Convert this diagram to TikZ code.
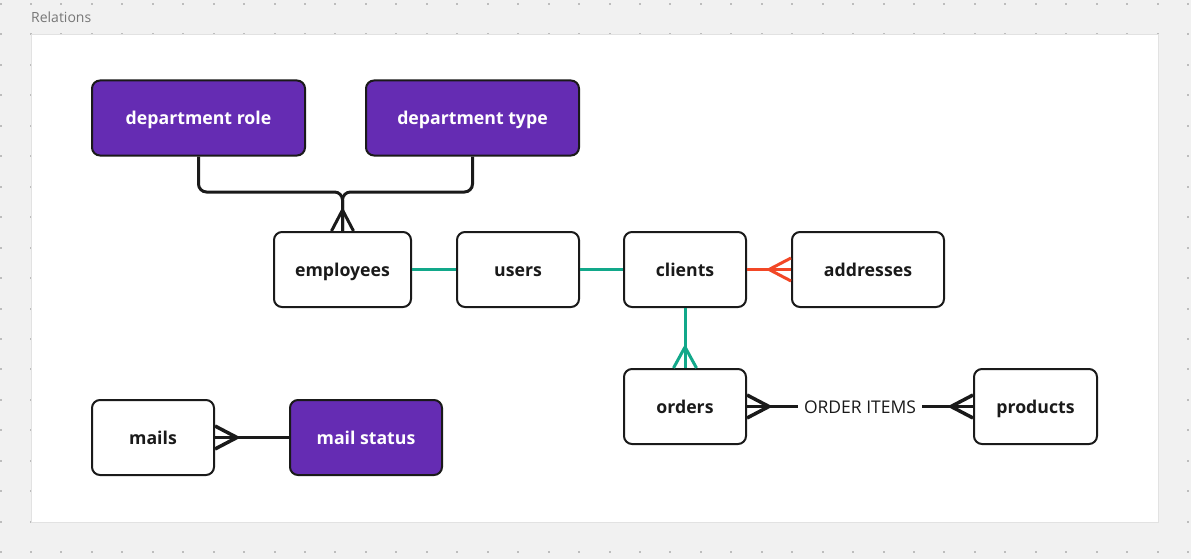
\documentclass[tikz,border=0pt]{standalone}
\usepackage{fontspec}
\setmainfont{Open Sans}
\usetikzlibrary{calc}
\definecolor{bgc}{HTML}{F1F1F1}
\definecolor{dotc}{HTML}{BDBDBD}
\definecolor{framec}{HTML}{E2E2E2}
\definecolor{ink}{HTML}{1A1A1A}
\definecolor{violetc}{HTML}{652CB3}
\definecolor{tealc}{HTML}{12A88A}
\definecolor{redc}{HTML}{F24726}
\definecolor{titlec}{HTML}{777777}
\begin{document}
\begin{tikzpicture}[x=1pt,y=-1pt,
  entity/.style={draw=ink, line width=2pt, rounded corners=8pt, fill=white, text=ink,
    font=\fontsize{17.7}{21}\selectfont\bfseries, minimum height=75pt, inner sep=0pt,
    text height=17pt, text depth=4pt},
  lookup/.style={entity, fill=violetc, text=white},
  rel/.style={line width=3pt, draw=ink},
  relthick/.style={line width=3.5pt, draw=ink},
  tealrel/.style={line width=3pt, draw=tealc},
  redrel/.style={line width=3pt, draw=redc}]
\useasboundingbox (0,0) rectangle (1191,559);
\fill[bgc] (0,0) rectangle (1191,559);
\foreach \i in {0,...,39}{
  \foreach \j in {0,...,18}{
    \fill[dotc] ({0.5+30.45*\i-1},{4+30.45*\j-1}) rectangle ++(2,2);
  }
}
\draw[framec, fill=white, line width=1pt] (31,35) rectangle (1158,522);
\node[anchor=base west, text=titlec, font=\fontsize{14}{16}\selectfont, inner sep=0pt] (title) at (31,23) {Relations};

% nodes
\node[lookup, minimum width=213pt] (deptrole) at (198.5,118) {department role};
\node[lookup, minimum width=213pt] (depttype) at (472.5,118) {department type};
\node[entity, minimum width=137pt] (employees) at (342.5,269.5) {employees};
\node[entity, minimum width=122pt] (users) at (518,269.5) {users};
\node[entity, minimum width=122pt] (clients) at (685,269.5) {clients};
\node[entity, minimum width=152pt] (addresses) at (868,269.5) {addresses};
\node[entity, minimum width=122pt] (orders) at (685,406.5) {orders};
\node[entity, minimum width=123pt] (products) at (1035.5,406.5) {products};
\node[entity, minimum width=122pt] (mails) at (153,437.5) {mails};
\node[lookup, minimum width=152pt] (mailstatus) at (366,437.5) {mail status};

% department connectors
\coordinate (join) at (342.5,192);
\draw[rel, rounded corners=8pt] (deptrole.south) -- (deptrole.south |- join) -- (join) -- (employees.north);
\draw[rel, rounded corners=8pt] (depttype.south) -- (depttype.south |- join) -- (join) -- (employees.north);
\draw[rel] ($(employees.north)+(0,-21)$) -- ++(-11,21) ($(employees.north)+(0,-21)$) -- ++(11,21);

% teal
\draw[tealrel] (employees) -- (users);
\draw[tealrel] (users) -- (clients);
\draw[tealrel] (clients) -- (orders);
\draw[tealrel] ($(orders.north)+(0,-21)$) -- ++(-11.5,21) ($(orders.north)+(0,-21)$) -- ++(11.5,21);

% red
\draw[redrel] (clients) -- (addresses);
\draw[redrel] ($(addresses.west)+(-22,0)$) -- ++(22,-11.5) ($(addresses.west)+(-22,0)$) -- ++(22,11.5);

% order items
\draw[relthick] (orders) -- node[fill=white, text=ink, font=\fontsize{17.5}{21}\selectfont, inner sep=6pt, text height=17pt, text depth=4pt] (orderitems) {ORDER ITEMS} (products);
\draw[relthick] ($(orders.east)+(22,0)$) -- ++(-22,-11.5) ($(orders.east)+(22,0)$) -- ++(-22,11.5);
\draw[relthick] ($(products.west)+(-22,0)$) -- ++(22,-11.5) ($(products.west)+(-22,0)$) -- ++(22,11.5);

% mails
\draw[relthick] (mails) -- (mailstatus);
\draw[relthick] ($(mails.east)+(22,0)$) -- ++(-22,-11.5) ($(mails.east)+(22,0)$) -- ++(-22,11.5);
\end{tikzpicture}
\end{document}
